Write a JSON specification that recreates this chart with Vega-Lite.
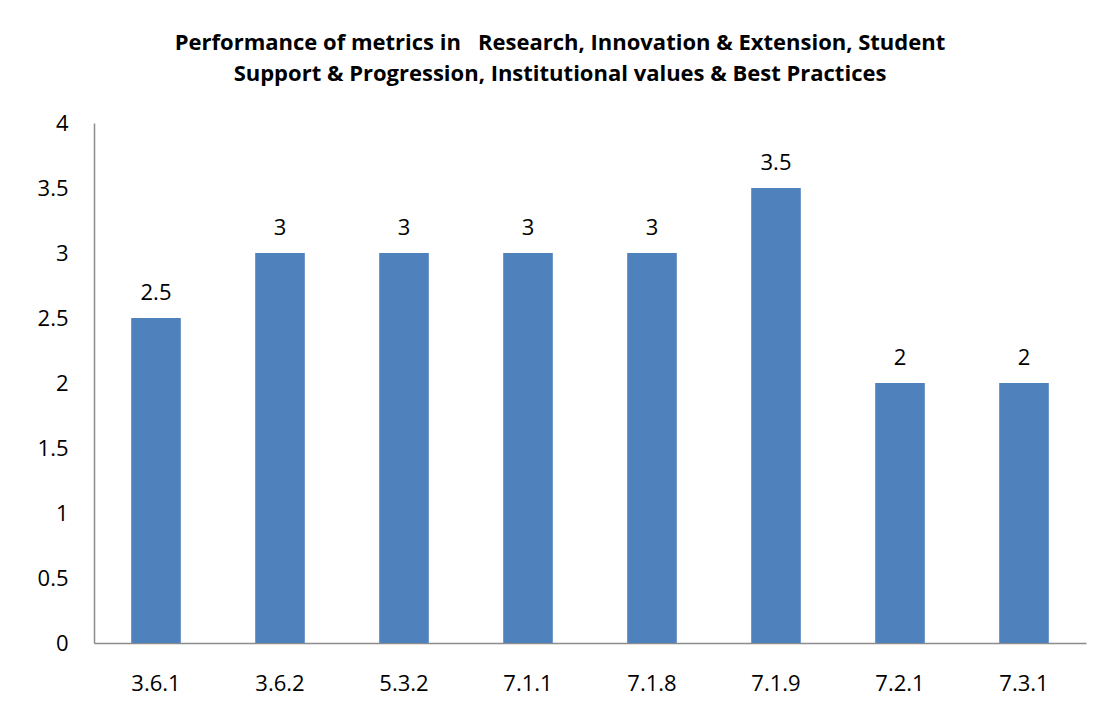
{
  "$schema": "https://vega.github.io/schema/vega-lite/v6.json",
  "width": 992,
  "height": 520,
  "autosize": {"type": "none"},
  "padding": {"left": 94, "top": 123, "right": 29, "bottom": 65},
  "background": "white",
  "title": {
    "text": ["Performance of metrics in \u00a0\u00a0Research, Innovation & Extension, Student", "Support & Progression, Institutional values & Best Practices"],
    "font": "Open Sans",
    "fontSize": 22,
    "fontWeight": "bold",
    "color": "#000000",
    "anchor": "middle",
    "dx": -30,
    "offset": 26,
    "lineHeight": 31
  },
  "data": {
    "values": [
      {"metric": "3.6.1", "value": 2.5},
      {"metric": "3.6.2", "value": 3},
      {"metric": "5.3.2", "value": 3},
      {"metric": "7.1.1", "value": 3},
      {"metric": "7.1.8", "value": 3},
      {"metric": "7.1.9", "value": 3.5},
      {"metric": "7.2.1", "value": 2},
      {"metric": "7.3.1", "value": 2}
    ]
  },
  "encoding": {
    "x": {
      "field": "metric",
      "type": "nominal",
      "sort": null,
      "scale": {"paddingInner": 0.6, "paddingOuter": 0.3},
      "axis": {
        "title": null,
        "labelAngle": 0,
        "ticks": false,
        "labelPadding": 30,
        "labelFont": "Open Sans",
        "labelFontSize": 22,
        "labelColor": "#000000",
        "domainColor": "#8c8c8c",
        "domainWidth": 1.5
      }
    },
    "y": {
      "field": "value",
      "type": "quantitative",
      "scale": {"domain": [0, 4], "nice": false},
      "axis": {
        "title": null,
        "values": [0, 0.5, 1, 1.5, 2, 2.5, 3, 3.5, 4],
        "format": "~g",
        "grid": false,
        "ticks": false,
        "labelPadding": 26,
        "labelFont": "Open Sans",
        "labelFontSize": 22,
        "labelColor": "#000000",
        "domainColor": "#8c8c8c",
        "domainWidth": 1.5
      }
    }
  },
  "layer": [
    {"mark": {"type": "bar", "color": "#4F81BD"}},
    {
      "mark": {"type": "text", "font": "Open Sans", "fontSize": 22, "color": "#000000", "baseline": "alphabetic", "dy": -18},
      "encoding": {"text": {"field": "value", "type": "quantitative", "format": "~g"}}
    }
  ],
  "config": {"view": {"stroke": null}}
}
